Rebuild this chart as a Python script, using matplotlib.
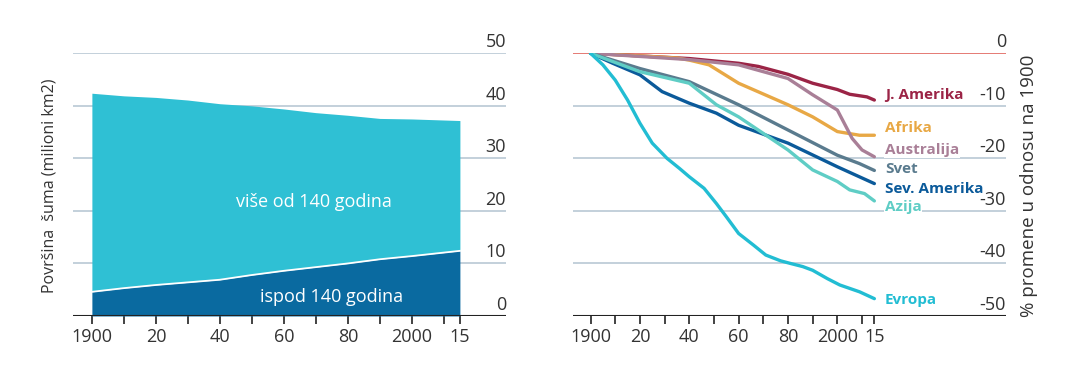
import matplotlib.pyplot as plt
from matplotlib.transforms import blended_transform_factory

plt.rcParams['font.family'] = ['Open Sans', 'DejaVu Sans']

# left panel: forest area (million km2)
area_years = [1900, 1910, 1920, 1930, 1940, 1950, 1960, 1970, 1980, 1990, 2000, 2015]
total_area = [42.4, 41.9, 41.6, 41.1, 40.4, 40.0, 39.4, 38.7, 38.2, 37.6, 37.5, 37.2]
young_area = [4.6, 5.3, 5.9, 6.4, 6.9, 7.8, 8.6, 9.3, 10.0, 10.8, 11.4, 12.4]

# right panel: % change relative to 1900
regions = {
    'J. Amerika': ([1900, 1920, 1940, 1960, 1968, 1980, 1990, 2000, 2005, 2012, 2015],
                   [0, -0.5, -1.0, -1.9, -2.5, -4.0, -5.7, -6.9, -7.8, -8.3, -8.9]),
    'Afrika': ([1900, 1920, 1935, 1940, 1948, 1960, 1980, 1990, 2000, 2009, 2015],
               [0, -0.5, -0.9, -1.3, -2.2, -5.7, -9.8, -12.1, -14.9, -15.6, -15.6]),
    'Australija': ([1900, 1920, 1940, 1960, 1980, 1990, 2000, 2006, 2010, 2015],
                   [0, -0.6, -1.2, -2.2, -4.8, -7.9, -10.8, -16.2, -18.4, -19.7]),
    'Svet': ([1900, 1909, 1920, 1940, 1960, 1980, 2000, 2009, 2015],
             [0, -1.3, -2.9, -5.4, -9.8, -14.6, -19.4, -21.0, -22.3]),
    'Sev. Amerika': ([1900, 1909, 1920, 1929, 1940, 1951, 1960, 1980, 2000, 2015],
                     [0, -1.9, -4.1, -7.3, -9.5, -11.4, -13.7, -17.1, -21.6, -24.8]),
    'Azija': ([1900, 1920, 1940, 1951, 1960, 1980, 1990, 2000, 2005, 2011, 2015],
              [0, -3.5, -5.7, -9.8, -12.1, -18.4, -22.2, -24.4, -26.0, -26.7, -28.1]),
    'Evropa': ([1900, 1905, 1910, 1915, 1920, 1925, 1931, 1936, 1940, 1946, 1951, 1955,
                1960, 1966, 1971, 1977, 1981, 1986, 1990, 1996, 2001, 2009, 2015],
               [0, -2.2, -5.1, -8.9, -13.3, -17.1, -20.0, -21.9, -23.5, -25.7, -28.6, -31.1,
                -34.3, -36.5, -38.4, -39.5, -40.0, -40.6, -41.3, -42.9, -44.1, -45.4, -46.7]),
}
colors = {
    'J. Amerika': '#9b2446',
    'Afrika': '#e8a845',
    'Australija': '#a97f97',
    'Svet': '#5a7b8e',
    'Sev. Amerika': '#0b5a9a',
    'Azija': '#5fcdc5',
    'Evropa': '#22bdd3',
}
label_y = {
    'J. Amerika': -7.9, 'Afrika': -14.3, 'Australija': -18.4, 'Svet': -22.1,
    'Sev. Amerika': -25.9, 'Azija': -29.2, 'Evropa': -46.9,
}

tick_years = [1900, 1920, 1940, 1960, 1980, 2000, 2015]
tick_labels = ['1900', '20', '40', '60', '80', '2000', '15']
minor_years = [1910, 1930, 1950, 1970, 1990, 2010]

grid_col = '#b9c8d4'
text_col = '#333333'

fig = plt.figure(figsize=(10.8, 3.87), dpi=100)
ax1 = fig.add_axes([0.0676, 0.1835, 0.4009, 0.6788])
ax2 = fig.add_axes([0.5308, 0.1835, 0.4006, 0.6788])


def style_axis(ax, ylim, yticks, xlim, zero_red=False):
    ax.set_xlim(*xlim)
    ax.set_ylim(*ylim)
    for s in ax.spines.values():
        s.set_visible(False)
    ax.set_yticks([])
    ax.set_xticks(tick_years)
    ax.set_xticklabels(tick_labels)
    ax.set_xticks(minor_years, minor=True)
    ax.tick_params(axis='x', which='both', length=6, width=1.2, color='#222222',
                   labelsize=13, labelcolor=text_col, pad=3)
    tr = blended_transform_factory(ax.transAxes, ax.transData)
    for v in yticks:
        if v == ylim[0]:
            ax.axhline(v, color='#222222', lw=1.5, zorder=5)
        elif zero_red and v == 0:
            ax.axhline(v, color='#e0645c', lw=1.2, zorder=1)
        else:
            ax.axhline(v, color=grid_col, lw=1.2, zorder=0)
        ax.text(1.0, v + 0.4, str(v), transform=tr, ha='right', va='bottom',
                fontsize=13, color=text_col, zorder=6)


# left panel
style_axis(ax1, (0, 50), [0, 10, 20, 30, 40, 50], (1894.1, 2029.4))
ax1.fill_between(area_years, young_area, total_area, color='#2fc0d4', lw=0, zorder=2)
ax1.fill_between(area_years, 0, young_area, color='#0a6aa0', lw=0, zorder=2)
ax1.plot(area_years, young_area, color='white', lw=1.3, zorder=3)
ax1.text(1969.4, 21.7, 'više od 140 godina', color='white', fontsize=13,
         ha='center', va='center', zorder=4)
ax1.text(1975, 3.7, 'ispod 140 godina', color='white', fontsize=13,
         ha='center', va='center', zorder=4)
fig.text(0.046, 0.52, 'Površina  šuma (milioni km2)', rotation=90, ha='center',
         va='center', fontsize=11.5, color=text_col)

# right panel
style_axis(ax2, (-50, 0), [0, -10, -20, -30, -40, -50], (1893, 2068.3), zero_red=True)
for name, (yrs, vals) in regions.items():
    ax2.plot(yrs, vals, color=colors[name], lw=2.4, solid_capstyle='round',
             solid_joinstyle='round', zorder=3)
    ax2.text(2019.3, label_y[name], name, color=colors[name], fontsize=11,
             fontweight='bold', ha='left', va='center', zorder=4,
             bbox=dict(facecolor='white', edgecolor='none', pad=0.5))
fig.text(0.953, 0.52, '% promene u odnosu na 1900', rotation=90, ha='center',
         va='center', fontsize=13.5, color=text_col)

fig.savefig('out.png', dpi=100, facecolor='white')
